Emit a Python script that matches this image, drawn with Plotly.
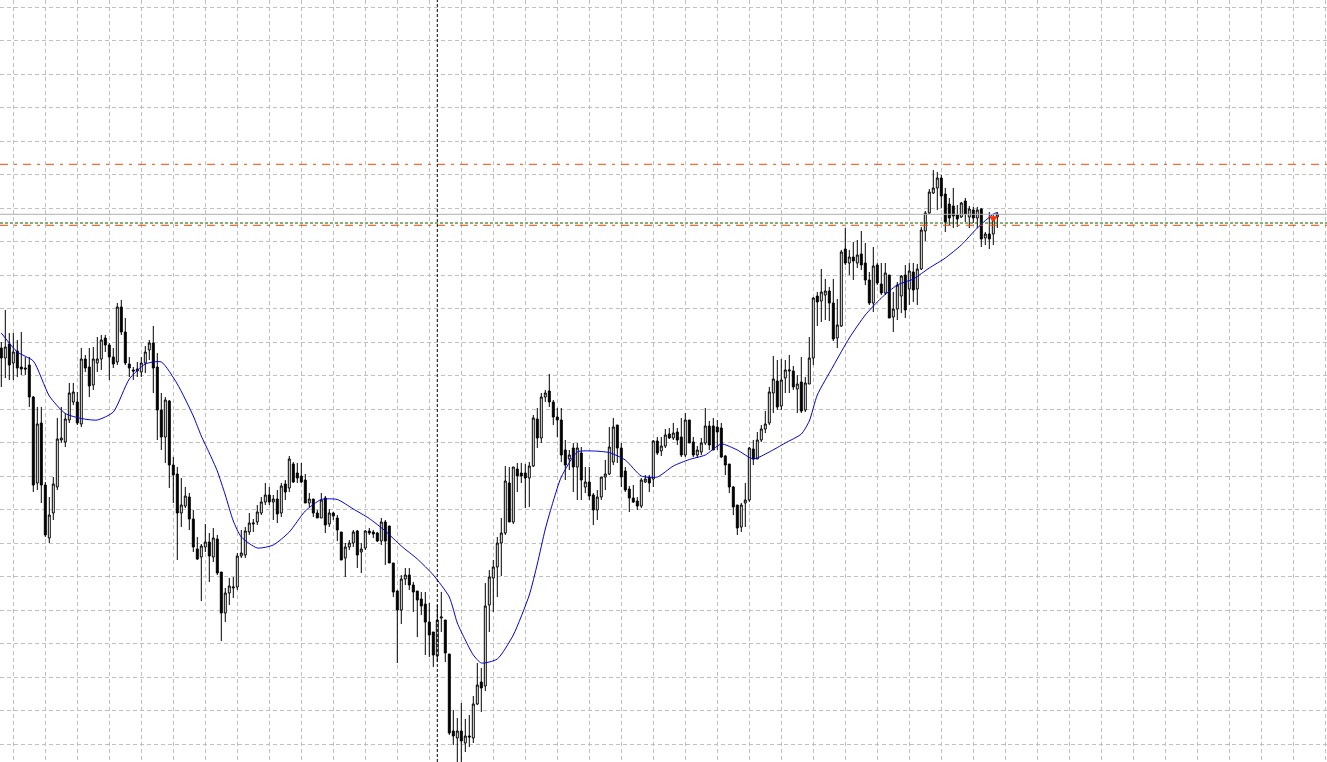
import plotly.graph_objects as go

# Candle data (quote units; grid step = 33.5 units)
opens = [414,404,418,399,411,395,394,397,365,279,
         339,277,224,249,275,322,320,342,360,360,
         338,403,395,377,399,403,424,417,405,400,
         455,430,398,392,391,390,399,412,419,395,
         352,325,361,297,288,249,256,265,243,213,
         205,215,220,205,223,190,149,169,174,175,
         206,207,230,238,240,249,260,267,260,263,
         249,278,274,298,289,286,282,259,263,249,
         244,264,238,249,244,230,204,215,219,231,
         210,214,231,230,229,221,240,236,199,171,
         152,183,187,177,171,163,158,140,130,106,
         144,142,108,31,24,31,19,26,24,58,
         80,76,157,184,195,219,229,279,240,293,
         289,289,284,296,343,324,365,371,360,345,
         342,312,303,314,295,309,275,280,267,252,
         265,285,288,300,337,314,291,273,264,261,
         256,280,285,283,321,311,316,328,324,330,
         325,307,342,320,307,310,319,336,336,335,
         334,306,298,275,257,235,259,262,313,303,
         322,333,339,369,381,356,384,391,391,373,
         380,352,378,404,466,461,467,471,459,424,
         436,513,499,505,499,508,499,482,459,497,
         478,469,487,445,453,466,487,473,490,473,
         493,531,549,569,574,584,568,558,556,547,
         545,561,545,552,544,553,524,528,528,545]
highs = [420,452,429,429,422,430,405,405,366,355,
         355,280,265,285,344,355,349,379,379,370,
         414,407,414,415,425,427,427,419,414,459,
         462,444,405,395,400,405,416,422,436,409,
         369,365,362,305,295,284,275,269,252,225,
         218,238,229,234,227,190,174,184,185,209,
         232,235,249,243,257,265,279,275,267,272,
         279,282,306,300,299,299,288,269,263,252,
         269,266,253,250,247,230,219,222,232,232,
         219,232,234,232,230,244,242,236,199,172,
         187,194,194,180,171,170,170,159,130,157,
         170,142,108,52,44,59,43,47,66,99,
         94,179,192,202,225,244,296,295,295,299,
         299,298,300,347,354,369,372,388,362,354,
         354,322,312,319,319,315,295,295,269,272,
         285,302,335,344,337,319,295,276,277,265,
         284,287,287,322,325,325,333,334,339,334,
         344,349,342,325,316,324,354,341,344,342,
         339,307,298,276,257,259,279,315,322,330,
         337,351,375,406,402,403,402,407,396,387,
         405,385,425,465,470,493,483,475,483,463,
         512,534,512,520,522,531,519,490,515,499,
         499,499,487,470,480,487,497,499,499,498,
         535,551,573,592,590,587,574,564,574,557,
         560,564,556,555,555,554,530,550,547,550]
lows = [375,384,382,382,385,387,387,355,270,272,
        259,225,219,242,272,319,315,339,357,337,
        335,390,365,372,390,392,410,382,394,397,
        427,397,385,382,385,385,389,402,369,322,
        312,299,274,259,202,235,254,232,210,202,
        161,210,180,200,187,121,140,157,164,172,
        204,204,227,230,237,247,257,257,242,239,
        245,262,270,279,279,279,259,255,245,244,
        244,229,235,242,221,202,185,212,215,194,
        189,212,227,224,220,217,197,199,165,99,
        138,177,172,150,125,147,107,105,95,100,
        130,100,27,17,-3,-3,10,15,19,57,
        50,71,130,150,165,186,227,240,238,270,
        279,254,255,295,314,319,360,355,337,325,
        300,282,292,270,262,262,269,262,237,242,
        262,272,287,297,299,275,270,250,259,252,
        254,279,270,275,307,306,314,323,322,317,
        305,305,319,305,304,307,317,312,312,312,
        304,287,269,247,227,230,235,260,297,303,
        320,329,337,349,352,352,369,369,372,349,
        349,350,378,397,436,440,442,441,421,414,
        435,497,487,482,494,492,477,457,450,477,
        467,467,444,430,442,449,444,457,460,457,
        492,521,548,568,552,554,530,537,534,535,
        544,540,534,539,534,515,517,513,517,534]
closes = [404,415,397,410,394,393,393,365,277,338,
          277,227,247,278,323,324,343,369,370,339,
          403,394,376,403,403,422,417,405,398,455,
          430,399,394,391,393,399,410,419,394,352,
          325,362,297,287,249,257,266,243,215,203,
          216,220,206,224,189,149,169,176,175,206,
          209,231,239,239,250,260,267,260,263,248,
          276,270,303,280,284,280,259,263,249,244,
          262,237,249,246,232,202,215,219,230,207,
          213,231,229,228,221,240,221,199,170,152,
          183,187,177,170,162,156,140,127,107,142,
          145,109,29,26,31,21,26,25,58,77,
          74,156,185,195,219,229,281,240,295,286,
          286,284,296,344,324,365,369,360,345,342,
          307,297,307,295,314,282,280,266,252,265,
          285,288,315,335,314,285,272,264,260,256,
          282,283,279,321,309,316,327,324,329,322,
          307,342,319,307,312,319,336,317,312,330,
          305,297,275,255,234,257,262,314,303,322,
          333,338,370,383,355,382,392,392,375,378,
          351,379,404,464,460,470,471,459,423,437,
          510,499,505,501,507,497,482,459,496,479,
          469,489,444,453,477,486,452,491,472,493,
          532,549,570,574,584,566,540,544,546,543,
          559,548,553,544,552,523,528,523,544,548]

# Moving average
ma_idx = [0,4,8,12,16,20,24,28,32,36,40,44,48,50,52,54,56,58,60,64,68,72,76,80,84,88,92,96,
          100,104,108,112,114,116,118,120,124,128,132,134,136,138,140,144,148,152,156,160,164,168,
          172,176,180,184,188,192,196,200,202,204,208,212,216,220,224,228,232,236,240,244,248,249]
ma_vals = [429,410,401,366,348.5,343.5,342,350,383,398,400,378,346,326,309,291,267,241,225,214,217,230,251,262.5,262.5,253,243.5,231,
           216,203,187,165,139,122,107,99,103,127,167,198,233,261,285,310,311,309.4,302,286,285,296,
           302.5,307,318,312,303,310,319,328,341,367,396,424,447,464,477,483,494,504,517,534,548,549.5]

# Horizontal levels
level_upper = 597.7
level_gray = 547.7
level_green = 539.0
level_lower = 536.7
separator_idx = 109
signal_idx = 248
signal_val = 543.7

idx = list(range(len(opens)))

fig = go.Figure()
fig.add_trace(go.Candlestick(
    x=idx, open=opens, high=highs, low=lows, close=closes,
    increasing=dict(line=dict(color='black', width=1), fillcolor='white'),
    decreasing=dict(line=dict(color='black', width=1), fillcolor='black'),
    whiskerwidth=0, showlegend=False, hoverinfo='skip'))
fig.add_trace(go.Scatter(x=ma_idx, y=ma_vals, mode='lines',
                         line=dict(color='#0000dd', width=1, shape='spline', smoothing=0.6),
                         showlegend=False, hoverinfo='skip'))
fig.add_trace(go.Scatter(x=[signal_idx], y=[signal_val], mode='markers',
                         marker=dict(symbol='triangle-down', color='#ff3300', size=8),
                         showlegend=False, hoverinfo='skip'))

fig.add_hline(y=level_upper, line=dict(color='#ff4500', width=1, dash='8px,6px,3px,6px'))
fig.add_hline(y=level_gray, line=dict(color='#b0b0b0', width=1))
fig.add_hline(y=level_green, line=dict(color='#006000', width=1, dash='3px,2px'))
fig.add_hline(y=level_lower, line=dict(color='#ff4500', width=1, dash='8px,6px,3px,6px'))
fig.add_vline(x=separator_idx, line=dict(color='black', width=1, dash='3px,2px'))

axis_common = dict(showticklabels=False, zeroline=False, showline=False, ticks='',
                   showgrid=True, gridcolor='#c0c0c0', gridwidth=1, griddash='4px,3px',
                   tickmode='linear', fixedrange=True)
fig.update_layout(
    width=1327, height=762,
    margin=dict(l=0, r=0, t=0, b=0),
    paper_bgcolor='white', plot_bgcolor='white',
    showlegend=False,
    xaxis=dict(range=[-0.325, 331.425], tick0=3, dtick=8,
               rangeslider=dict(visible=False), **axis_common),
    yaxis=dict(range=[0, 762], tick0=17.7, dtick=33.5, **axis_common),
)

fig.write_html("out.html", config={'displayModeBar': False},
               post_script="document.body.style.margin='0';")
